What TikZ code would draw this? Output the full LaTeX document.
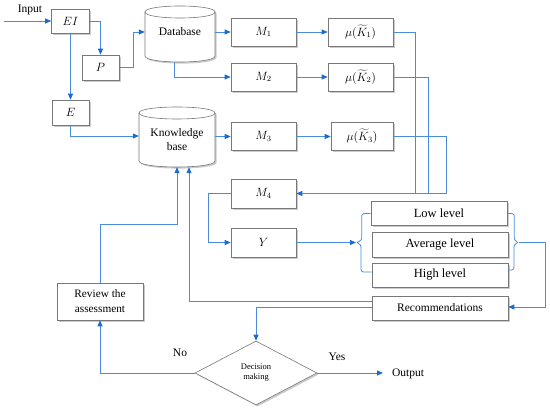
\documentclass[tikz,border=0pt]{standalone}
\usepackage{fontspec}
\setmainfont{Liberation Serif}
\usetikzlibrary{shapes.geometric,arrows.meta,shadows,calc}
\definecolor{lineblue}{RGB}{74,140,218}
\definecolor{tipblue}{RGB}{28,108,204}
\definecolor{boxgray}{RGB}{120,120,120}
\tikzset{
  boxdraw/.style={draw=boxgray, line width=0.6pt, fill=white,
    drop shadow={shadow xshift=1.6pt, shadow yshift=-1.6pt, opacity=0.45, fill=black!45}},
  box/.style={boxdraw, rectangle, inner sep=0pt, align=center,
    font=\fontsize{12}{14}\selectfont},
  txt/.style={inner sep=0pt, align=center, font=\fontsize{11.5}{14}\selectfont},
  wire/.style={draw=lineblue, line width=0.8pt},
  arr/.style={wire, -{Triangle[length=6pt,width=5pt,fill=tipblue,color=tipblue]}},
  lbl/.style={inner sep=0pt, font=\fontsize{11.5}{13}\selectfont}
}
\begin{document}
\begin{tikzpicture}[x=1pt,y=-1pt]
\useasboundingbox (0,0) rectangle (550,411);

% cylinders
\path[boxdraw] (145,12) -- (145,56) .. controls (145,64) and (215,64) .. (215,56)
  -- (215,12) .. controls (215,4) and (145,4) .. cycle;
\draw[draw=boxgray, line width=0.6pt] (145,12) .. controls (145,20) and (215,20) .. (215,12);
\node[txt, minimum width=70pt, minimum height=56pt] (db) at (180,34) {};
\node[txt] (dbt) at (180,32) {Database};

\path[boxdraw] (139,113) -- (139,161) .. controls (139,169) and (215,169) .. (215,161)
  -- (215,113) .. controls (215,105) and (139,105) .. cycle;
\draw[draw=boxgray, line width=0.6pt] (139,113) .. controls (139,121) and (215,121) .. (215,113);
\node[txt, minimum width=76pt, minimum height=60pt] (kb) at (177,137) {};
\node[txt] (kbt) at (177,140) {Knowledge\\base};

% boxes
\node[box, minimum width=38pt, minimum height=24pt] (EI) at (70.5,21) {$EI$};
\node[box, minimum width=37pt, minimum height=25pt] (P) at (100.5,67.5) {$P$};
\node[box, minimum width=37pt, minimum height=25pt] (E) at (70.5,112.5) {$E$};

\node[box, minimum width=65pt, minimum height=28pt] (M1) at (263.5,32) {$M_1$};
\node[box, minimum width=65pt, minimum height=28pt] (M2) at (263.5,77) {$M_2$};
\node[box, minimum width=65pt, minimum height=28pt] (M3) at (263.5,136.5) {$M_3$};
\node[box, minimum width=65pt, minimum height=28pt] (K1) at (360.5,32) {$\mu(\widetilde{K}_1)$};
\node[box, minimum width=65pt, minimum height=28pt] (K2) at (360.5,77) {$\mu(\widetilde{K}_2)$};
\node[box, minimum width=62pt, minimum height=28pt] (K3) at (362,136.5) {$\mu(\widetilde{K}_3)$};
\node[box, minimum width=65pt, minimum height=29pt] (M4) at (263.5,193.5) {$M_4$};
\node[box, minimum width=65pt, minimum height=29pt] (Y) at (263.5,242.5) {$Y$};

\node[box, minimum width=136pt, minimum height=23.5pt, font=\fontsize{12.5}{14}\selectfont] (low) at (439,213.5) {Low level};
\node[box, minimum width=136pt, minimum height=25pt, font=\fontsize{12.5}{14}\selectfont] (avg) at (440,244.5) {Average level};
\node[box, minimum width=136pt, minimum height=24pt, font=\fontsize{12.5}{14}\selectfont] (high) at (440,275) {High level};
\node[box, minimum width=136pt, minimum height=24pt, font=\fontsize{11.5}{13}\selectfont] (rec) at (440,308) {Recommendations};

\node[box, minimum width=86pt, minimum height=37pt, font=\fontsize{11.3}{15}\selectfont] (rev) at (100,301.5) {Review the\\assessment};

\node[boxdraw, diamond, aspect=1.9, minimum width=122pt, minimum height=64pt, inner sep=0pt,
  align=center, font=\fontsize{8.5}{10}\selectfont] (dec) at (256,373) {Decision\\making};

% labels
\node[lbl] (inl) at (30,10) {Input};
\node[lbl] (outl) at (408,374) {Output};
\node[lbl] (nol) at (180,353) {No};
\node[lbl] (yesl) at (337,357) {Yes};

% free ends
\coordinate (inp) at (4,21);
\coordinate (outp) at (383,373);
\coordinate (j1) at (415,193.5);
\coordinate (j2) at (428,193.5);
\coordinate (j3) at (446,193.5);
\coordinate (lbr) at (356,242.5);
\coordinate (rbr) at (519,242.5);
\coordinate (rc) at (545,242.5);

% connectors
\draw[arr] (inp) -- (EI.west);
\draw[arr] (EI.east) -| (P.north);
\draw[arr] (EI.south) -- (E.north);
\draw[arr] (P.east) -- ++(14,0) |- ([yshift=2pt]db.west);
\draw[arr] (E.south) |- ([yshift=1pt]kb.west);
\draw[arr] ([yshift=2pt]db.east) -- (M1.west);
\draw[arr] ([xshift=-6pt]db.south) |- (M2.west);
\draw[arr] ([yshift=0.5pt]kb.east) -- (M3.west);
\draw[arr] (M1.east) -- (K1.west);
\draw[arr] (M2.east) -- (K2.west);
\draw[arr] (M3.east) -- (K3.west);
\draw[wire] (K1.east) -| (j1);
\draw[wire] (K2.east) -| (j2);
\draw[arr] (K3.east) -| (j3) -- (M4.east);
\draw[arr] (M4.west) -- ++(-22,0) |- (Y.west);
\draw[arr] (Y.east) -- (lbr);
\draw[wire, rounded corners=2.5pt] (low.west) -- ++(-9,0) -- ++(0,27) -- (lbr) -- ++(5,2) -- ++(0,27.5) -- ([yshift=3pt]high.west);
\draw[wire, rounded corners=2.5pt] (low.east) -- ++(7,0) -- ++(0,27) -- (rbr) -- ++(-5,2) -- ++(0,25.5) -- ([yshift=5pt]high.east);
\draw[arr] (rbr) -- (rc) |- ([yshift=1pt]rec.east);
\draw[arr] ([yshift=7pt]rec.west) -| ([xshift=12pt]kb.south);
\draw[arr] (rev.north) |- ([yshift=-57pt]kb.south) -- (kb.south);
\draw[arr] ([yshift=1pt]rec.west) -| (dec.north);
\draw[arr] (dec.west) -| (rev.south);
\draw[arr] (dec.east) -- (outp);
\end{tikzpicture}
\end{document}
